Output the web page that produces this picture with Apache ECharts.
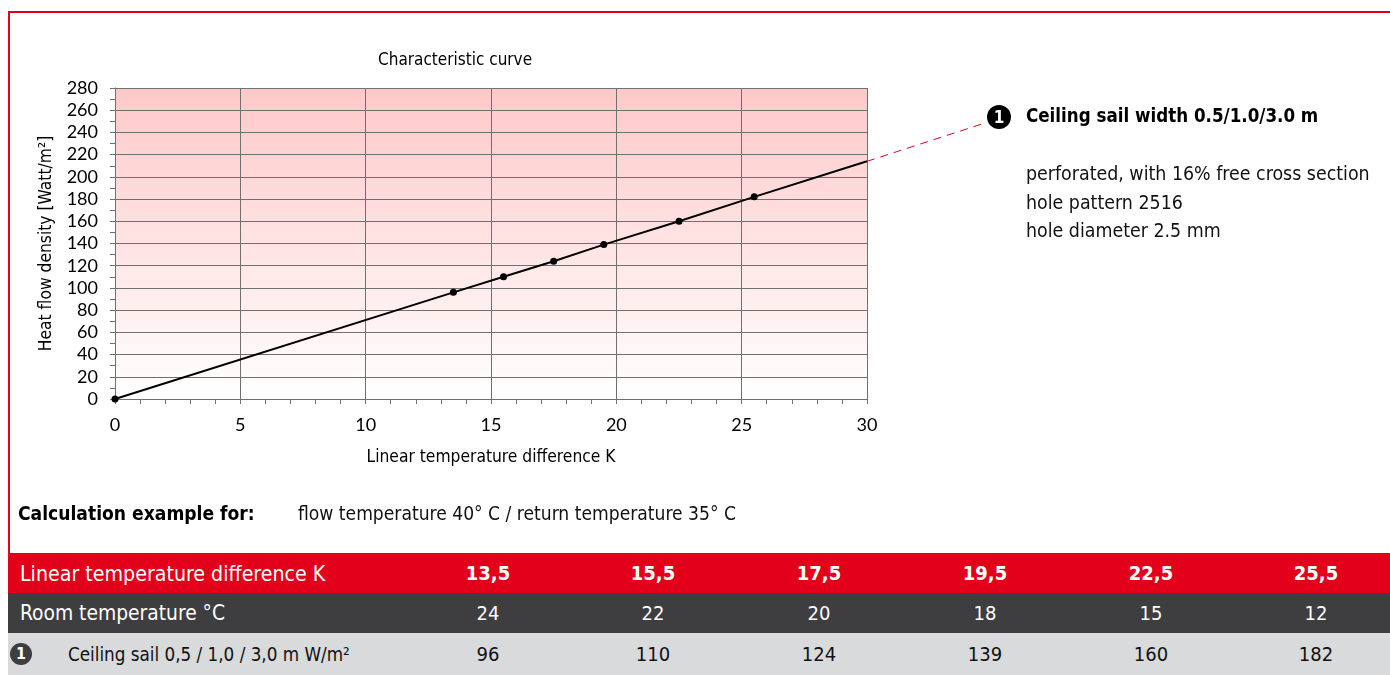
<!DOCTYPE html>
<html>
<head>
<meta charset="utf-8">
<script src="https://cdn.jsdelivr.net/npm/echarts@6/dist/echarts.min.js"></script>
<style>
  html, body { margin: 0; padding: 0; background: #fff; }
  body { width: 1390px; height: 675px; position: relative; overflow: hidden; }
  #chart { position: absolute; left: 0; top: 0; width: 1390px; height: 675px; }
  .cond { font-family: "Liberation Sans Narrow", "DejaVu Sans Condensed", "Roboto", sans-serif; }
  #frame { position: absolute; left: 8px; top: 11px; width: 1400px; height: 542px; border-left: 2px solid #e2001a; border-top: 2px solid #e2001a; box-sizing: border-box; }
  .abs { position: absolute; white-space: nowrap; }
  .row { position: absolute; left: 8px; width: 1382px; height: 40px; }
  .cell { position: absolute; top: 0; height: 40px; line-height: 40px; font-size: 20px; transform: translateX(-50%); }
  .badge { position: absolute; border-radius: 50%; color: #fff; text-align: center; font-weight: bold; font-family: "Liberation Sans Narrow", "DejaVu Sans Condensed", sans-serif; }
</style>
</head>
<body>
<div id="frame"></div>
<div id="chart"></div>
<div id="overlay"></div>
<script>
// ---- data ----
const xValues = [0, 13.5, 15.5, 17.5, 19.5, 22.5, 25.5, 30];
const yValues = [0, 96, 110, 124, 139, 160, 182, 214];
const markerShown = [true, true, true, true, true, true, true, false];
const xTicks = [0, 5, 10, 15, 20, 25, 30];
const yTicks = [0, 20, 40, 60, 80, 100, 120, 140, 160, 180, 200, 220, 240, 260, 280];

const chartTitle = 'Characteristic curve';
const xAxisName = 'Linear temperature difference K';
const yAxisName = 'Heat flow density [Watt/m²]';

const annotationTitle = 'Ceiling sail width 0.5/1.0/3.0 m';
const annotationLines = ['perforated, with 16% free cross section', 'hole pattern 2516', 'hole diameter 2.5 mm'];

const calcLabel = 'Calculation example for:';
const calcText = 'flow temperature 40° C / return temperature 35° C';

const rowHeaders = ['Linear temperature difference K', 'Room temperature °C', 'Ceiling sail 0,5 / 1,0 / 3,0 m W/m²'];
const tableDiffK = ['13,5', '15,5', '17,5', '19,5', '22,5', '25,5'];
const tableRoomTemp = ['24', '22', '20', '18', '15', '12'];
const tableSail = ['96', '110', '124', '139', '160', '182'];

// ---- chart ----
const chart = echarts.init(document.getElementById('chart'), null, { renderer: 'canvas' });
const lineData = xValues.map((x, i) => ({ value: [x, yValues[i]], symbolSize: markerShown[i] ? 7 : 0 }));
const labelFont = 'Lato, "Open Sans", sans-serif';
const condFont = '"Liberation Sans Narrow", "DejaVu Sans Condensed", Roboto, sans-serif';
const gray = '#707070';

chart.setOption({
  animation: false,
  title: {
    text: chartTitle, left: 373, top: 47,
    textStyle: { fontFamily: condFont, fontSize: 17, fontWeight: 'normal', color: '#000' }
  },
  grid: {
    left: 115, top: 88, right: 523, bottom: 276, show: true, borderWidth: 0,
    backgroundColor: { type: 'linear', x: 0, y: 0, x2: 0, y2: 1,
      colorStops: [{ offset: 0, color: '#ffc8c8' }, { offset: 1, color: '#ffffff' }] }
  },
  xAxis: {
    type: 'value', min: 0, max: 30, interval: 5,
    name: xAxisName, nameLocation: 'middle', nameGap: 50,
    nameTextStyle: { fontFamily: condFont, fontSize: 17.3, color: '#000' },
    axisLine: { show: true, lineStyle: { color: gray } },
    axisTick: { show: true, length: 5, lineStyle: { color: gray } },
    minorTick: { show: true, splitNumber: 5, length: 5, lineStyle: { color: gray } },
    axisLabel: { fontFamily: labelFont, fontSize: 18, color: '#000', margin: 17,
      formatter: v => xTicks.includes(v) ? String(v) : '' },
    splitLine: { show: true, lineStyle: { color: gray, width: 1 } }
  },
  yAxis: {
    type: 'value', min: 0, max: 280, interval: 20,
    name: yAxisName, nameLocation: 'middle', nameGap: 60, nameRotate: 90,
    nameTextStyle: { fontFamily: condFont, fontSize: 17.3, color: '#000' },
    axisLine: { show: true, lineStyle: { color: gray } },
    axisTick: { show: true, length: 5, lineStyle: { color: gray } },
    minorTick: { show: true, splitNumber: 2, length: 5, lineStyle: { color: gray } },
    axisLabel: { fontFamily: labelFont, fontSize: 18, color: '#000', margin: 17,
      formatter: v => yTicks.includes(v) ? String(v) : '' },
    splitLine: { show: true, lineStyle: { color: gray, width: 1 } }
  },
  series: [{
    type: 'line', data: lineData, symbol: 'circle', showSymbol: true,
    itemStyle: { color: '#000' }, lineStyle: { color: '#000', width: 2 },
    clip: false, z: 5
  }]
});

// leader line from end of curve to annotation
const annCircle = { x: 999, y: 117, r: 12 };
const start = chart.convertToPixel({ gridIndex: 0 }, [xValues[xValues.length - 1], yValues[yValues.length - 1]]);
chart.setOption({
  graphic: [{
    type: 'line', silent: true,
    shape: { x1: start[0], y1: start[1], x2: 982, y2: 124 },
    style: { stroke: '#e2001a', lineWidth: 1, lineDash: [8, 6] }
  }]
});

// ---- overlay HTML (annotation, calc example, table) ----
const ov = document.getElementById('overlay');
function add(html) { ov.insertAdjacentHTML('beforeend', html); }

add(`<div class="badge" style="left:${annCircle.x - annCircle.r}px;top:${annCircle.y - annCircle.r}px;width:${annCircle.r*2}px;height:${annCircle.r*2}px;line-height:${annCircle.r*2}px;background:#000;font-size:17px;">1</div>`);
add(`<div class="abs cond" style="left:1026px;top:105px;font-size:18.6px;font-weight:bold;color:#000;">${annotationTitle}</div>`);
annotationLines.forEach((t, i) => {
  add(`<div class="abs cond" style="left:1026px;top:${162 + i * 28.5}px;font-size:19.4px;color:#111;">${t}</div>`);
});

add(`<div class="abs cond" style="left:18px;top:502px;font-size:19.1px;font-weight:bold;color:#000;">${calcLabel}</div>`);
add(`<div class="abs cond" style="left:298px;top:502px;font-size:19.1px;color:#111;">${calcText}</div>`);

const colX = [488, 653, 819, 985, 1151, 1316];
const rows = [
  { top: 553, bg: '#e2001a', color: '#fff', vals: tableDiffK, bold: true },
  { top: 593, bg: '#3e3d40', color: '#fff', vals: tableRoomTemp, bold: false },
  { top: 633, bg: '#d9dadc', color: '#111', vals: tableSail, bold: false }
];
const headerSizes = [21.2, 20.8, 18.7];
rows.forEach((r, ri) => {
  let inner = '';
  const hx = ri === 2 ? 60 : 12;
  const h = ri === 2 ? 42 : 40;
  inner += `<div class="abs cond" style="left:${hx}px;top:0;height:${h}px;line-height:${h + 1}px;font-size:${headerSizes[ri]}px;color:${r.color};">${rowHeaders[ri]}</div>`;
  r.vals.forEach((v, ci) => {
    inner += `<div class="cell cond" style="left:${colX[ci] - 8}px;height:${h}px;line-height:${h}px;color:${r.color};font-weight:${r.bold ? 'bold' : 'normal'};">${v}</div>`;
  });
  if (ri === 2) {
    inner += `<div class="badge" style="left:2px;top:10px;width:22px;height:22px;line-height:22px;background:#3e3d40;font-size:16px;">1</div>`;
  }
  add(`<div class="row" style="top:${r.top}px;height:${h}px;background:${r.bg};">${inner}</div>`);
});
</script>
</body>
</html>
